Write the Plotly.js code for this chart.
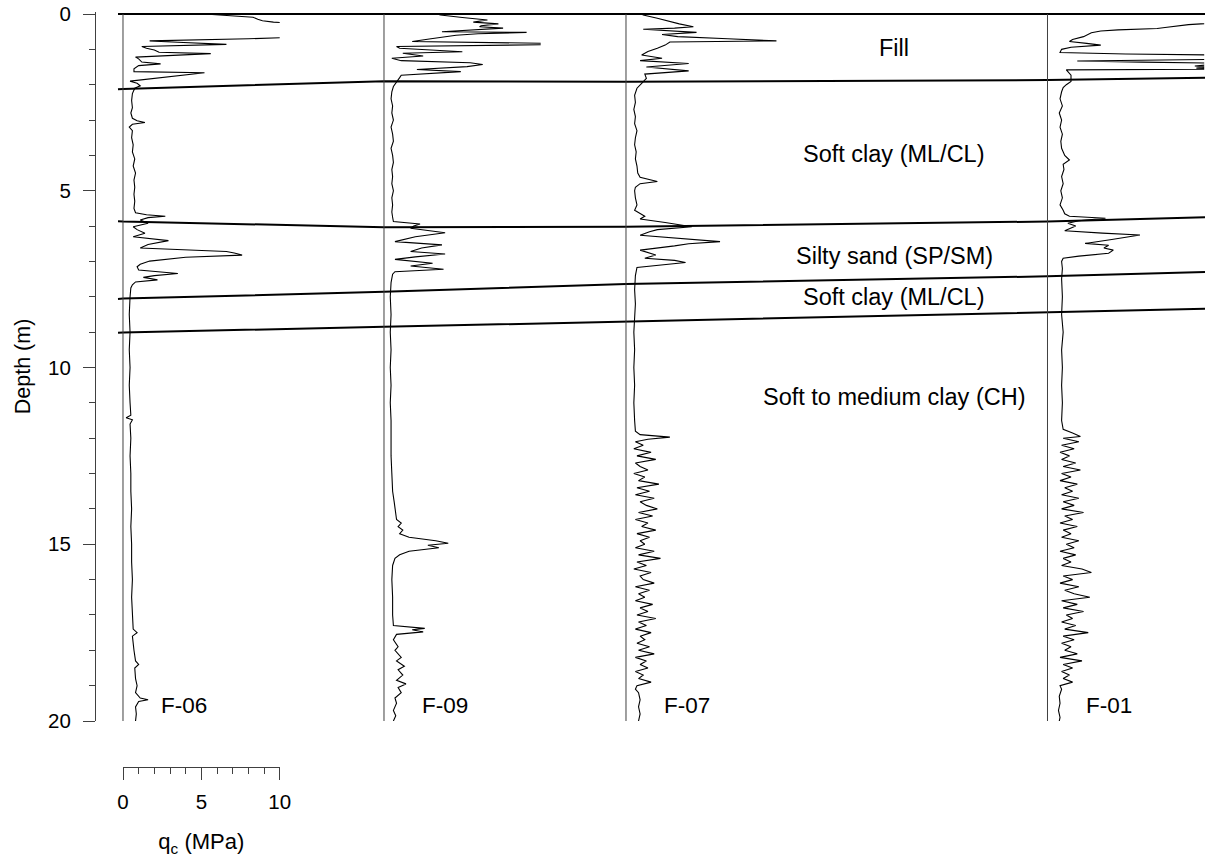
<!DOCTYPE html>
<html>
<head>
<meta charset="utf-8">
<script src="https://cdn.plot.ly/plotly-3.0.1.min.js"></script>
<style>
  html, body { margin: 0; padding: 0; background: #ffffff; }
  #chart { width: 1207px; height: 865px; }
</style>
</head>
<body>
<div id="chart"></div>
<script>
// ---- CPT soundings: cone resistance q_c (MPa) against depth (m) ----
const boreholes = ['F-06', 'F-09', 'F-07', 'F-01'];

const f06Depth = [0.00,0.05,0.09,0.15,0.19,0.23,0.26,0.30,0.60,0.66,0.70,0.76,0.80,0.86,0.92,0.97,1.02,1.08,1.12,1.16,1.22,1.27,1.36,1.41,1.46,1.55,1.63,1.66,1.72,1.76,1.79,1.84,1.90,1.96,2.03,2.10,2.25,2.45,2.65,2.80,2.95,3.02,3.07,3.12,3.20,3.30,3.50,3.70,3.90,4.10,4.30,4.50,4.70,4.90,5.10,5.30,5.50,5.62,5.68,5.72,5.76,5.83,5.92,6.02,6.10,6.20,6.30,6.41,6.52,6.62,6.68,6.72,6.76,6.82,6.88,6.99,7.08,7.15,7.24,7.34,7.40,7.45,7.52,7.58,7.66,7.75,8.0,8.5,9.0,9.5,10.0,10.5,11.0,11.35,11.42,11.48,11.6,12.0,12.5,13.0,13.5,14.0,14.5,15.0,15.5,16.0,16.5,17.0,17.4,17.5,17.6,18.0,18.3,18.4,18.5,18.8,19.0,19.2,19.35,19.4,19.45,19.6,19.8,20.0];
const f06Qc    = [5.2,7.2,8.3,8.6,8.9,9.6,10.4,12.5,12.5,11.0,8.0,1.7,3.5,6.6,1.2,1.5,2.0,2.3,5.6,3.2,0.8,1.0,1.2,2.4,1.0,0.7,0.7,5.2,4.0,3.5,2.6,1.8,0.45,0.9,1.1,0.75,0.6,0.55,0.6,0.5,0.6,0.9,1.4,0.6,0.4,0.6,0.55,0.65,0.6,0.75,0.65,0.8,0.7,0.75,0.7,0.75,0.7,0.8,1.5,2.7,1.6,1.1,1.6,0.65,0.9,1.4,0.65,2.9,1.6,1.1,4.5,6.6,7.1,7.6,4.0,1.7,1.1,0.9,1.0,3.5,2.0,1.3,2.2,0.8,0.6,0.5,0.45,0.4,0.45,0.4,0.45,0.4,0.45,0.5,0.2,0.6,0.45,0.5,0.45,0.5,0.5,0.55,0.5,0.55,0.55,0.6,0.55,0.6,0.65,0.9,0.6,0.7,0.8,1.0,0.75,0.8,0.9,0.8,1.1,1.6,1.0,0.8,0.85,0.8];

const f09Depth = [0.00,0.03,0.10,0.17,0.23,0.28,0.33,0.36,0.40,0.45,0.50,0.52,0.56,0.60,0.62,0.70,0.78,0.83,0.86,0.90,0.92,0.97,1.07,1.11,1.16,1.19,1.25,1.32,1.38,1.43,1.49,1.57,1.63,1.69,1.73,1.80,1.87,1.95,2.05,2.2,2.4,2.6,2.8,3.0,3.2,3.4,3.6,3.8,4.0,4.2,4.4,4.6,4.8,5.0,5.2,5.4,5.6,5.75,5.87,5.94,6.00,6.06,6.19,6.30,6.44,6.53,6.62,6.72,6.79,6.87,6.94,7.05,7.13,7.22,7.29,7.36,7.45,7.6,8.0,8.5,9.0,9.5,10.0,10.5,11.0,11.5,12.0,12.5,13.0,13.5,13.8,14.0,14.3,14.4,14.5,14.6,14.7,14.8,14.9,14.97,15.03,15.1,15.2,15.3,15.4,15.6,16.0,16.5,17.0,17.3,17.38,17.42,17.48,17.55,17.7,17.9,18.0,18.2,18.3,18.45,18.55,18.7,18.85,18.95,19.05,19.2,19.35,19.5,19.7,19.85,20.0];
const f09Qc    = [3.4,3.6,5.0,6.6,5.7,7.3,6.2,6.1,7.6,5.5,3.7,9.1,6.0,4.6,4.2,3.0,1.8,10.5,12.0,3.0,0.8,1.0,5.0,1.2,2.0,2.5,0.5,1.1,5.5,6.3,5.3,2.1,4.9,2.5,1.1,1.0,0.9,0.75,0.6,0.5,0.45,0.55,0.5,0.6,0.45,0.55,0.6,0.45,0.55,0.6,0.5,0.55,0.5,0.6,0.5,0.55,0.5,0.55,0.6,2.3,1.9,1.7,3.9,2.0,0.7,3.7,2.4,1.7,3.9,2.0,0.7,3.1,1.7,3.8,0.7,0.55,0.5,0.45,0.4,0.45,0.4,0.45,0.4,0.45,0.4,0.45,0.45,0.45,0.5,0.55,0.65,0.7,0.8,1.1,0.9,1.2,1.0,1.6,3.3,4.1,2.8,3.5,1.6,1.0,0.7,0.55,0.5,0.55,0.55,0.6,2.6,1.8,2.5,0.8,0.6,0.9,0.7,1.1,0.8,1.3,0.9,1.2,0.8,1.4,0.9,1.1,0.7,0.8,0.6,0.75,0.6];

const f07Depth = [0.00,0.03,0.12,0.20,0.28,0.36,0.40,0.43,0.52,0.58,0.64,0.70,0.74,0.76,0.79,0.88,0.97,1.06,1.16,1.25,1.32,1.40,1.50,1.61,1.70,1.82,1.96,2.10,2.3,2.5,2.7,2.9,3.1,3.3,3.5,3.7,3.9,4.1,4.3,4.5,4.62,4.70,4.74,4.80,4.9,5.0,5.2,5.4,5.55,5.72,5.80,5.90,6.02,6.10,6.16,6.26,6.35,6.44,6.50,6.56,6.68,6.82,6.91,6.97,7.03,7.10,7.17,7.4,7.8,8.2,8.6,9.0,9.5,10.0,10.5,11.0,11.5,11.8,11.9,11.97,12.03,12.1,12.2,12.3,12.4,12.5,12.6,12.7,12.8,12.9,13.0,13.1,13.2,13.3,13.4,13.5,13.6,13.7,13.8,13.9,14.0,14.1,14.2,14.3,14.4,14.5,14.6,14.7,14.8,14.9,15.0,15.1,15.2,15.3,15.4,15.5,15.6,15.7,15.8,15.9,16.0,16.1,16.2,16.3,16.4,16.5,16.6,16.7,16.8,16.9,17.0,17.1,17.2,17.3,17.4,17.5,17.6,17.7,17.8,17.9,18.0,18.1,18.2,18.3,18.4,18.5,18.6,18.7,18.8,18.9,19.0,19.1,19.2,19.4,19.6,19.8,20.0];
const f07Qc    = [1.0,1.1,2.0,2.7,3.4,4.3,3.1,1.1,4.5,2.3,3.3,6.5,9.1,9.6,2.8,2.5,2.0,1.4,1.0,2.3,0.9,4.0,1.3,4.0,1.2,1.3,1.0,0.7,0.55,0.6,0.5,0.6,0.55,0.7,0.6,0.55,0.65,0.6,0.7,0.75,0.9,1.6,2.0,0.9,0.6,0.55,0.6,0.7,0.55,1.2,0.9,2.5,4.2,2.0,1.5,0.9,3.3,6.0,4.0,3.1,0.9,1.9,1.2,3.1,3.8,2.0,0.7,0.6,0.55,0.6,0.55,0.5,0.55,0.5,0.55,0.5,0.55,0.6,0.9,2.8,1.4,0.6,1.1,0.5,1.6,0.7,1.9,0.6,0.9,1.4,0.5,1.2,0.8,2.1,0.7,1.5,0.6,1.8,0.9,1.3,2.0,0.8,1.7,0.6,1.4,1.0,1.9,0.7,1.5,0.9,1.2,0.6,1.8,0.8,2.2,0.7,1.3,0.5,1.6,0.9,1.1,1.8,0.6,1.5,0.8,1.2,0.6,1.7,0.9,1.4,0.7,1.9,0.8,1.3,0.6,1.6,0.9,1.2,0.7,1.5,0.8,1.8,0.6,1.3,0.9,1.4,0.6,1.1,0.8,1.6,0.7,0.6,0.8,0.9,0.8,0.9,0.8];

const f01Depth = [0.22,0.30,0.38,0.41,0.45,0.48,0.53,0.58,0.64,0.72,0.78,0.83,0.88,0.94,1.00,1.09,1.13,1.16,1.22,1.28,1.31,1.33,1.36,1.39,1.44,1.47,1.50,1.53,1.56,1.58,1.63,1.73,1.85,1.91,2.0,2.08,2.2,2.4,2.6,2.8,3.0,3.2,3.4,3.6,3.8,4.0,4.13,4.25,4.4,4.6,4.8,5.0,5.2,5.4,5.55,5.65,5.72,5.78,5.85,5.92,6.00,6.13,6.20,6.25,6.38,6.49,6.54,6.62,6.68,6.77,6.85,6.91,7.0,7.2,7.5,8.0,8.5,9.0,9.5,10.0,10.5,11.0,11.5,11.75,11.85,11.95,12.0,12.1,12.2,12.3,12.4,12.5,12.6,12.7,12.8,12.9,13.0,13.1,13.2,13.3,13.4,13.5,13.6,13.7,13.8,13.9,14.0,14.1,14.2,14.3,14.4,14.5,14.6,14.7,14.8,14.9,15.0,15.1,15.2,15.3,15.4,15.5,15.6,15.7,15.8,15.9,16.0,16.1,16.2,16.3,16.4,16.5,16.6,16.7,16.8,16.9,17.0,17.1,17.2,17.3,17.4,17.5,17.6,17.7,17.8,17.9,18.0,18.1,18.2,18.3,18.4,18.5,18.6,18.7,18.8,18.9,19.0,19.1,19.3,19.5,19.7,19.9,20.0];
const f01Qc    = [12.0,9.0,7.5,7.0,4.5,3.4,2.8,2.6,2.3,1.6,1.4,2.5,3.4,1.5,0.9,0.8,5.0,10.5,13.0,11.0,5.0,1.9,6.0,11.0,10.2,9.4,10.3,9.5,11.0,1.2,1.3,1.5,1.5,1.5,1.2,1.0,0.9,0.8,0.95,0.75,0.9,0.8,0.95,0.85,0.9,1.1,1.4,1.0,1.05,0.9,1.0,0.85,0.95,0.8,1.0,1.1,1.4,3.7,2.0,1.3,1.8,1.1,3.5,5.9,4.1,2.4,3.9,3.6,4.2,3.9,2.0,1.0,0.9,0.95,0.9,0.95,0.9,1.0,0.9,0.95,0.9,0.95,0.9,1.0,1.6,2.1,1.0,2.0,0.9,1.7,0.8,1.4,0.9,1.8,1.0,2.1,0.9,1.5,0.8,1.9,1.1,1.6,0.9,2.0,1.0,1.7,0.9,2.3,1.1,1.6,0.8,1.9,1.0,1.5,0.9,2.0,1.2,1.7,0.8,1.8,1.0,1.5,0.9,2.2,2.8,1.0,1.6,0.8,2.0,1.1,1.7,2.7,0.9,1.9,1.0,2.3,1.2,1.6,0.9,1.8,1.1,2.6,1.0,1.7,0.9,1.5,1.1,1.9,0.8,2.2,1.0,1.6,0.9,1.4,1.0,1.6,0.8,0.9,0.75,0.8,0.7,0.8,0.75];

const depthSeries = [f06Depth, f09Depth, f07Depth, f01Depth];
const qcSeries    = [f06Qc, f09Qc, f07Qc, f01Qc];

// ---- Stratigraphy: interpreted layer boundaries (depth, m) ----
// columns: west end, F-06, F-09, F-07, F-01, east end
const boundaryTop      = [0.00, 0.00, 0.00, 0.00, 0.00, 0.00];
const boundaryFillBase = [2.13, 2.12, 1.90, 1.92, 1.87, 1.80];
const boundarySandTop  = [5.86, 5.87, 6.03, 6.02, 5.87, 5.75];
const boundarySandBase = [8.06, 8.05, 7.86, 7.64, 7.42, 7.30];
const boundaryClayBase = [9.02, 9.01, 8.85, 8.70, 8.45, 8.34];
const boundaries = [boundaryTop, boundaryFillBase, boundarySandTop, boundarySandBase, boundaryClayBase];

const layerNames = ['Fill', 'Soft clay (ML/CL)', 'Silty sand (SP/SM)', 'Soft clay (ML/CL)', 'Soft to medium clay (CH)'];
const layerLabelDepth = [0.96, 3.96, 6.85, 8.0, 10.83];

const depthTicks = [0, 5, 10, 15, 20];
const qcTicks = [0, 5, 10];

// ---- Page geometry (pixels) ----
const W = 1207, H = 865;
const plotLeft = 96, plotRight = 1205, plotTop = 12, plotBottom = 767;
const depthZeroPx = 14, depthMaxPx = 721;
const pxPerMPa = 15.67;
const trackZeroPx = [123, 384, 626, 1047.5];
const qcMax = 10, qcMinVisible = -0.2;
const boundaryWestPx = 118;
const layerLabelPx = 894;
const boreLabelShift = 2.3;   // MPa to the right of each track's zero line
const boreLabelDepth = 19.55;

const plotW = plotRight - plotLeft, plotH = plotBottom - plotTop;
const pxPerM = (depthMaxPx - depthZeroPx) / 20;
const toPaperX = px => (px - plotLeft) / plotW;
// position along the common section axis, in MPa from the F-06 zero line
const toSection = px => (px - trackZeroPx[0]) / pxPerMPa;

const fontFam = '"Liberation Sans", Arial, Helvetica, sans-serif';
const ink = '#000000';
const axisGrey = '#404040';

const traces = [];
const layout = {
  width: W, height: H,
  margin: { l: plotLeft, r: W - plotRight, t: plotTop, b: H - plotBottom, pad: 0 },
  paper_bgcolor: '#ffffff', plot_bgcolor: 'rgba(0,0,0,0)',
  showlegend: false,
  font: { family: fontFam, color: ink, size: 20 },
  xaxis: {
    domain: [0, 1],
    range: [toSection(plotLeft), toSection(plotRight)],
    visible: false, fixedrange: true
  },
  yaxis: {
    domain: [(plotBottom - depthMaxPx) / plotH, 1],
    range: [20, -(depthZeroPx - plotTop) / pxPerM],
    anchor: 'x',
    showline: true, linecolor: axisGrey, linewidth: 1,
    showgrid: false, zeroline: false,
    tickmode: 'array', tickvals: depthTicks, ticktext: depthTicks.map(String),
    ticks: 'outside', ticklen: 12, tickwidth: 1, tickcolor: axisGrey,
    ticklabelstandoff: 8,
    minor: { ticks: 'outside', ticklen: 6, tickwidth: 1, tickcolor: axisGrey, dtick: 1, tick0: 0, showgrid: false },
    tickfont: { family: fontFam, size: 20.5, color: ink },
    title: { text: 'Depth (m)', font: { family: fontFam, size: 21.5, color: ink }, standoff: 11 },
    fixedrange: true
  },
  annotations: [],
  shapes: []
};

// one hidden x axis per sounding track, each 0..10 MPa wide, clipping higher readings
boreholes.forEach((name, i) => {
  const axName = 'xaxis' + (i + 2);
  const left = trackZeroPx[i] + qcMinVisible * pxPerMPa;
  const right = trackZeroPx[i] + qcMax * pxPerMPa;
  layout[axName] = {
    domain: [toPaperX(left), Math.min(1, toPaperX(right))],
    range: [qcMinVisible, qcMax],
    anchor: 'y', visible: false, fixedrange: true
  };
  // zero line of the track
  traces.push({
    type: 'scatter', mode: 'lines', xaxis: 'x' + (i + 2), yaxis: 'y',
    x: [0, 0], y: [0, 20],
    line: { color: axisGrey, width: 1 }, hoverinfo: 'skip'
  });
  // q_c profile
  traces.push({
    type: 'scatter', mode: 'lines', xaxis: 'x' + (i + 2), yaxis: 'y',
    x: qcSeries[i], y: depthSeries[i], name: name,
    line: { color: ink, width: 1.1 },
    hovertemplate: name + '<br>z = %{y} m<br>q<sub>c</sub> = %{x} MPa<extra></extra>'
  });
  layout.annotations.push({
    xref: 'x', yref: 'y',
    x: toSection(trackZeroPx[i]) + boreLabelShift, y: boreLabelDepth,
    text: name, showarrow: false, xanchor: 'left', yanchor: 'middle',
    font: { family: fontFam, size: 22.5, color: ink }
  });
});

// layer boundaries across the section
const boundaryX = [toSection(boundaryWestPx)]
  .concat(trackZeroPx.map(toSection))
  .concat([toSection(plotRight)]);
boundaries.forEach(depths => {
  traces.push({
    type: 'scatter', mode: 'lines', xaxis: 'x', yaxis: 'y',
    x: boundaryX, y: depths,
    line: { color: ink, width: 2 }, hoverinfo: 'skip'
  });
});

layerNames.forEach((txt, i) => {
  layout.annotations.push({
    xref: 'x', yref: 'y', x: toSection(layerLabelPx), y: layerLabelDepth[i],
    text: txt, showarrow: false, xanchor: 'center', yanchor: 'middle',
    font: { family: fontFam, size: 23.5, color: ink }
  });
});

// q_c scale bar under the F-06 track
layout.xaxis6 = {
  domain: [toPaperX(trackZeroPx[0]), toPaperX(trackZeroPx[0] + qcMax * pxPerMPa)],
  range: [0, qcMax],
  anchor: 'free', position: 0,
  showline: true, linecolor: axisGrey, linewidth: 1,
  showgrid: false, zeroline: false,
  tickmode: 'array', tickvals: qcTicks, ticktext: qcTicks.map(String),
  ticks: 'outside', ticklen: 12, tickwidth: 1, tickcolor: axisGrey,
  ticklabelstandoff: 4,
  minor: { ticks: 'outside', ticklen: 6, tickwidth: 1, tickcolor: axisGrey, dtick: 1, tick0: 0, showgrid: false },
  tickfont: { family: fontFam, size: 20.5, color: ink },
  title: { text: 'q<sub>c</sub> (MPa)', font: { family: fontFam, size: 22, color: ink }, standoff: 22 },
  fixedrange: true
};
traces.push({
  type: 'scatter', mode: 'lines', xaxis: 'x6', yaxis: 'y',
  x: [0, qcMax], y: [null, null], hoverinfo: 'skip', line: { width: 0 }
});

Plotly.newPlot('chart', traces, layout, { displayModeBar: false, responsive: false });
</script>
</body>
</html>
